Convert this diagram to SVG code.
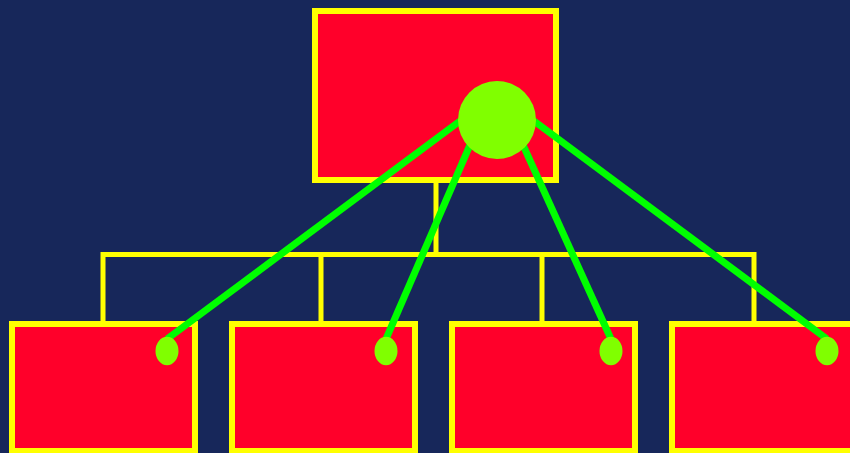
<svg xmlns="http://www.w3.org/2000/svg" width="850" height="453" viewBox="0 0 850 453">
<style>
.box{fill:#ff002a;stroke:#ffff00;stroke-width:6}
.tree{fill:none;stroke:#ffff00;stroke-width:5}
.link{stroke:#00ff00;stroke-width:7}
.dot{fill:#80ff00}
</style>
<rect width="850" height="453" fill="#17275a"/>
<g id="connectors">
<path class="tree" d="M436,183 V254.5 M103,321 V254.5 H754 V321 M321,254.5 V321 M542,254.5 V321"/>
</g>
<g id="root"><rect class="box" x="315" y="11" width="241" height="169"/></g>
<g id="child1"><rect class="box" x="12" y="324" width="183" height="127"/></g>
<g id="child2"><rect class="box" x="232" y="324" width="183" height="127"/></g>
<g id="child3"><rect class="box" x="452" y="324" width="183" height="127"/></g>
<g id="child4"><rect class="box" x="672" y="324" width="183" height="127"/></g>
<g id="links">
<line class="link" x1="460" y1="121" x2="167" y2="339"/>
<line class="link" x1="470" y1="145" x2="386" y2="339"/>
<line class="link" x1="523" y1="145" x2="611" y2="339"/>
<line class="link" x1="534" y1="121" x2="827" y2="339"/>
<circle class="dot" cx="497" cy="120" r="39"/>
<ellipse class="dot" cx="167" cy="351" rx="11.5" ry="14.3"/>
<ellipse class="dot" cx="386" cy="351" rx="11.5" ry="14.3"/>
<ellipse class="dot" cx="611" cy="351" rx="11.5" ry="14.3"/>
<ellipse class="dot" cx="827" cy="351" rx="11.5" ry="14.3"/>
</g>
</svg>
